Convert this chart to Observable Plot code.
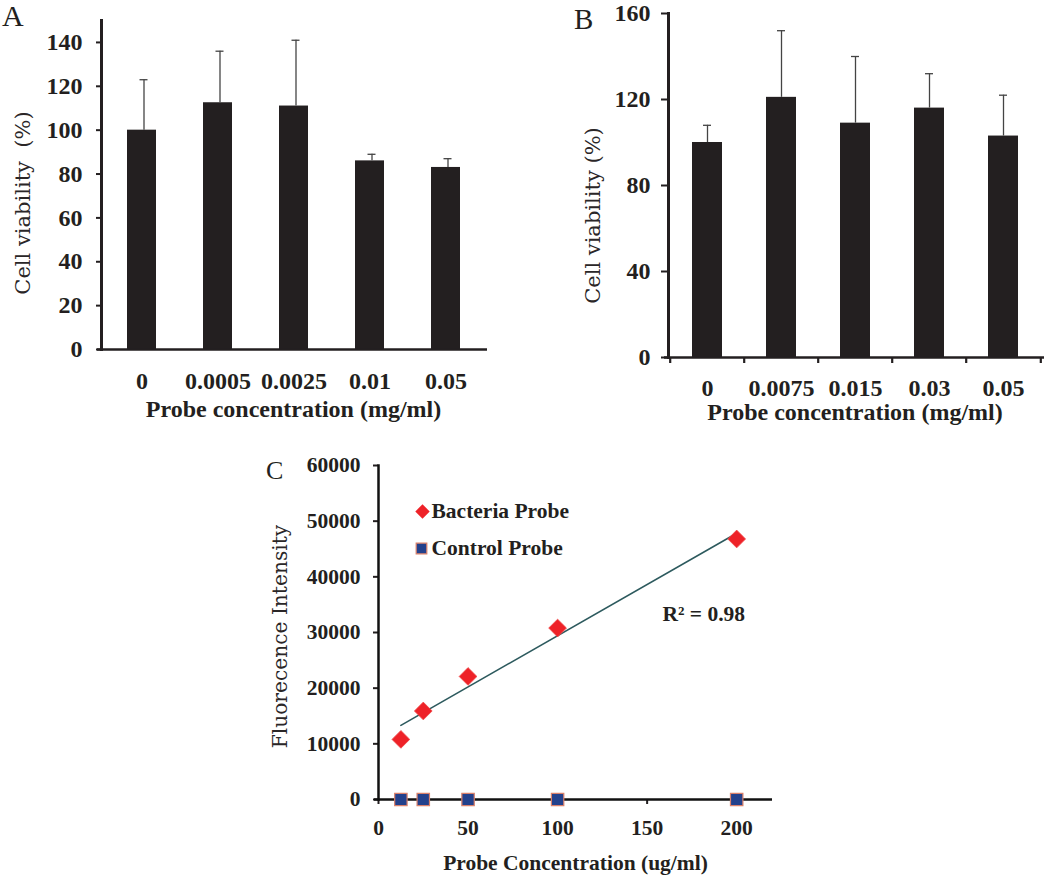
<!DOCTYPE html>
<html>
<head>
<meta charset="utf-8">
<script src="https://cdn.jsdelivr.net/npm/d3@7"></script>
<script src="https://cdn.jsdelivr.net/npm/@observablehq/plot@0.6"></script>
<style>
  html, body { margin: 0; padding: 0; background: #fff; }
  #wrap { position: relative; width: 1050px; height: 879px; overflow: hidden; background: #fff; }
  .panel { position: absolute; }
  .letter { position: absolute; font-family: "Liberation Serif", serif; line-height: 1.15; color: #231f20; }
  g[aria-label="ylabel A"] text { letter-spacing: 1.2px; }
  g[aria-label="ylabel B"] text { letter-spacing: 0.6px; }
  svg { overflow: visible; }
</style>
</head>
<body>
<div id="wrap">
  <div class="letter" style="left:2px; top:-1px; font-size:30px;">A</div>
  <div class="letter" style="left:574px; top:3px; font-size:29px;">B</div>
  <div class="letter" style="left:266px; top:456px; font-size:26px;">C</div>
  <div class="panel" id="pA" style="left:0px; top:0px;"></div>
  <div class="panel" id="pB" style="left:520px; top:3px;"></div>
  <div class="panel" id="pC" style="left:260px; top:440px;"></div>
</div>
<script>
// ---- Panel A data ----
const catsA = ["0", "0.0005", "0.0025", "0.01", "0.05"];
const viabA = [100, 112.5, 111, 86, 83];
const errA  = [23, 23.5, 30, 3, 4];
const yTicksA = [0, 20, 40, 60, 80, 100, 120, 140];
const yTitleA = "Cell viability\u00a0\u00a0(%)";
const xTitleA = "Probe concentration (mg/ml)";

// ---- Panel B data ----
const catsB = ["0", "0.0075", "0.015", "0.03", "0.05"];
const viabB = [100, 121, 109, 116, 103];
const errB  = [8, 31, 31, 16, 19];
const yTicksB = [0, 40, 80, 120, 160];
const yTitleB = "Cell viability (%)";
const xTitleB = "Probe concentration (mg/ml)";

// ---- Panel C data ----
const concC = [12.5, 25, 50, 100, 200];
const bacteriaC = [10800, 15900, 22100, 30800, 46800];
const controlC  = [0, 0, 0, 0, 0];
const xTicksC = [0, 50, 100, 150, 200];
const yTicksC = [0, 10000, 20000, 30000, 40000, 50000, 60000];
const legendC = ["Bacteria Probe", "Control Probe"];
const r2Label = "R\u00b2 = 0.98";
const yTitleC = "Fluorecence Intensity";
const xTitleC = "Probe Concentration (ug/ml)";

const dataA = catsA.map((c, i) => ({c, v: viabA[i], e: errA[i]}));
const dataB = catsB.map((c, i) => ({c, v: viabB[i], e: errB[i]}));
const dataC = concC.map((x, i) => ({x, b: bacteriaC[i], k: controlC[i]}));

const ink = "#231f20";
const baseStyle = {
  fontFamily: "'Liberation Serif', serif",
  fontWeight: "bold",
  fontSize: "24px",
  color: ink,
  background: "transparent",
  overflow: "visible"
};
const yTitleFont = {fontFamily: "'DejaVu Serif', serif", fontWeight: "normal", fill: "#2a2627"};

// ---------- Panel A ----------
const plotA = Plot.plot({
  width: 500, height: 430,
  marginLeft: 101, marginRight: 15, marginTop: 20, marginBottom: 81,
  style: baseStyle,
  x: {domain: catsA, paddingInner: 0.62, paddingOuter: 0.31, label: null},
  y: {domain: [0, 150], label: null},
  marks: [
    Plot.barY(dataA, {x: "c", y: "v", fill: ink}),
    Plot.ruleX(dataA, {x: "c", y1: "v", y2: d => d.v + d.e, stroke: "#444", strokeWidth: 1.3, dx: 2}),
    Plot.tickY(dataA, {x: "c", y: d => d.v + d.e, stroke: "#444", strokeWidth: 1.3, insetLeft: 10.5, insetRight: 10.5, dx: 2}),
    Plot.axisY({ticks: yTicksA, tickSize: 5, tickPadding: 14, strokeWidth: 2, label: null}),
    Plot.text([yTitleA], {text: d => d, frameAnchor: "left", rotate: -90, textAnchor: "middle", lineAnchor: "top",
      dx: -86, dy: 18, fontSize: 21, ...yTitleFont, ariaLabel: "ylabel A"}),
    Plot.axisX({tickSize: 0, tickPadding: 22,
      label: xTitleA, labelAnchor: "center", labelArrow: "none", labelOffset: 67}),
    Plot.ruleY([0], {stroke: ink, strokeWidth: 2.5, insetLeft: -4, insetRight: -2}),
    Plot.frame({anchor: "left", stroke: ink, strokeWidth: 3})
  ]
});
document.getElementById("pA").appendChild(plotA);

// ---------- Panel B ----------
const wB = 530, mLB = 148, mRB = 9;
const stepB = (wB - mLB - mRB) / catsB.length;
const plotB = Plot.plot({
  width: wB, height: 430,
  marginLeft: mLB, marginRight: mRB, marginTop: 10, marginBottom: 76,
  style: baseStyle,
  x: {domain: catsB, paddingInner: 0.6, paddingOuter: 0.3, label: null},
  y: {domain: [0, 160], label: null},
  marks: [
    Plot.barY(dataB, {x: "c", y: "v", fill: ink}),
    Plot.ruleX(dataB, {x: "c", y1: "v", y2: d => d.v + d.e, stroke: "#444", strokeWidth: 1.3}),
    Plot.tickY(dataB, {x: "c", y: d => d.v + d.e, stroke: "#444", strokeWidth: 1.3, insetLeft: 11, insetRight: 11}),
    Plot.axisY({ticks: yTicksB, tickSize: 7, tickPadding: 11, strokeWidth: 2, label: null}),
    Plot.text([yTitleB], {text: d => d, frameAnchor: "left", rotate: -90, textAnchor: "middle", lineAnchor: "top",
      dx: -83, dy: 30, fontSize: 21, ...yTitleFont, ariaLabel: "ylabel B"}),
    Plot.axisX({tickSize: 6, tickFormat: () => "", dx: -stepB / 2, strokeWidth: 2.2, label: null}),
    Plot.axisX({ticks: [catsB[catsB.length - 1]], tickSize: 6, tickFormat: () => "", dx: stepB / 2, strokeWidth: 2.2, label: null}),
    Plot.axisX({tickSize: 0, tickPadding: 21,
      label: xTitleB, labelAnchor: "center", labelArrow: "none", labelOffset: 62}),
    Plot.ruleY([0], {stroke: ink, strokeWidth: 2.5, insetLeft: -4, insetRight: -3}),
    Plot.frame({anchor: "left", stroke: ink, strokeWidth: 3})
  ]
});
document.getElementById("pB").appendChild(plotB);

// ---------- Panel C ----------
const plotC = Plot.plot({
  width: 530, height: 439,
  marginLeft: 118, marginRight: 18, marginTop: 25, marginBottom: 80,
  style: {...baseStyle, fontSize: "21.5px"},
  x: {domain: [0, 220], label: null},
  y: {domain: [0, 60000], label: null},
  marks: [
    Plot.axisY({ticks: yTicksC, tickFormat: d3.format("d"), tickSize: 5, tickPadding: 13, strokeWidth: 2, label: null}),
    Plot.text([yTitleC], {text: d => d, frameAnchor: "left", rotate: -90, textAnchor: "middle", lineAnchor: "top",
      dx: -106, dy: 4, fontSize: 20.2, ...yTitleFont}),
    Plot.axisX({ticks: xTicksC, tickFormat: d3.format("d"), tickSize: 5, tickPadding: 15, strokeWidth: 2,
      label: xTitleC, labelAnchor: "center", labelArrow: "none", labelOffset: 70}),
    Plot.ruleY([0], {stroke: "#111", strokeWidth: 2.5, insetLeft: -4}),
    Plot.frame({anchor: "left", stroke: "#111", strokeWidth: 2.5}),
    Plot.linearRegressionY(dataC, {x: "x", y: "b", ci: 0, stroke: "#2d5a5e", strokeWidth: 1.6}),
    Plot.dot(dataC, {x: "x", y: "k", symbol: "square", r: 7, fill: "#23418c", stroke: "#d9806a", strokeWidth: 1.2}),
    Plot.dot(dataC, {x: "x", y: "b", symbol: "diamond2", r: 8, fill: "#ee2228", stroke: "#f04a4a", strokeWidth: 0.8}),
    // legend
    Plot.dot([legendC[0]], {frameAnchor: "top-left", dx: 44, dy: 46, symbol: "diamond2", r: 6.5, fill: "#ee2228"}),
    Plot.text([legendC[0]], {text: d => d, frameAnchor: "top-left", dx: 53, dy: 46, textAnchor: "start", lineAnchor: "middle", fill: ink}),
    Plot.dot([legendC[1]], {frameAnchor: "top-left", dx: 43, dy: 83, symbol: "square", r: 6, fill: "#23418c", stroke: "#d9806a", strokeWidth: 1.2}),
    Plot.text([legendC[1]], {text: d => d, frameAnchor: "top-left", dx: 53, dy: 83, textAnchor: "start", lineAnchor: "middle", fill: ink}),
    Plot.text([r2Label], {text: d => d, frameAnchor: "top-left", dx: 284, dy: 149, textAnchor: "start", lineAnchor: "middle", fill: ink})
  ]
});
document.getElementById("pC").appendChild(plotC);
</script>
</body>
</html>
